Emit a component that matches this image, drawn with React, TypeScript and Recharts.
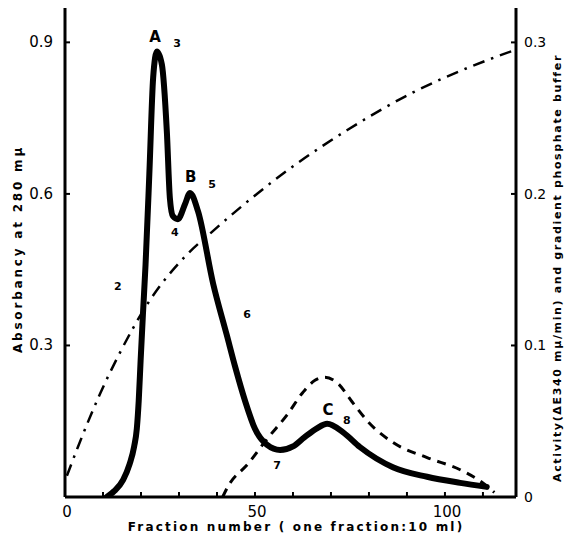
import { ComposedChart, Line, XAxis, YAxis, ReferenceDot } from 'recharts';

// absorbancy at 280 mμ (left axis)
const absFraction = [11, 13, 15.3, 17, 18.2, 18.9, 19.4, 19.9, 20.5, 21.2, 22.2, 23.2, 24.2, 25.5, 26.8, 27.6, 28.4, 29.7, 31.6, 32.9, 35, 39, 42.6, 44.7, 47.4, 50, 53.2, 56.6, 60, 63, 66.3, 69, 73.2, 77.6, 86.3, 95.3, 104, 111];
const absValue = [0, 0.012, 0.034, 0.065, 0.1, 0.135, 0.19, 0.27, 0.36, 0.46, 0.64, 0.83, 0.882, 0.856, 0.724, 0.592, 0.556, 0.55, 0.58, 0.602, 0.566, 0.422, 0.32, 0.26, 0.19, 0.135, 0.103, 0.093, 0.1, 0.118, 0.136, 0.145, 0.128, 0.099, 0.059, 0.04, 0.028, 0.02];

// activity ΔE340 (right axis)
const actFraction = [41.5, 42.9, 48.2, 53.4, 58.4, 62.6, 65.8, 68.4, 71.8, 75.5, 80, 86.3, 95.3, 104, 109, 113];
const actValue = [0, 0.007, 0.022, 0.039, 0.054, 0.069, 0.077, 0.079, 0.075, 0.063, 0.049, 0.036, 0.026, 0.018, 0.011, 0.003];

// gradient phosphate buffer (right axis)
const gradFraction = [0.5, 3.4, 9.2, 14, 21.6, 32.1, 38.7, 50.5, 61, 74.2, 91.6, 105.8, 118.4];
const gradValue = [0.014, 0.033, 0.068, 0.093, 0.127, 0.16, 0.175, 0.2, 0.22, 0.242, 0.267, 0.283, 0.295];

const xTicks = [0, 10, 20, 30, 40, 50, 60, 70, 80, 90, 100, 110];
const leftTicks = [0.3, 0.6, 0.9];
const rightTicks = [0, 0.1, 0.2, 0.3];

const peakLabels = [
  { text: 'A', f: 23.7, v: 0.912, big: true },
  { text: '3', f: 29.5, v: 0.898, big: false },
  { text: 'B', f: 33.1, v: 0.635, big: true },
  { text: '5', f: 38.7, v: 0.62, big: false },
  { text: '4', f: 28.9, v: 0.524, big: false },
  { text: '2', f: 13.9, v: 0.418, big: false },
  { text: '6', f: 47.9, v: 0.363, big: false },
  { text: '7', f: 55.8, v: 0.063, big: false },
  { text: 'C', f: 69.2, v: 0.172, big: true },
  { text: '8', f: 74.2, v: 0.152, big: false },
];

const absorbancy = absFraction.map((f, i) => ({ f, v: absValue[i] }));
const activity = actFraction.map((f, i) => ({ f, v: actValue[i] }));
const gradient = gradFraction.map((f, i) => ({ f, v: gradValue[i] }));

const font = '"DejaVu Sans", sans-serif';

const XTick = (props: any) => {
  const { x, y, payload } = props;
  const v = payload.value;
  return (
    <g>
      <line x1={x} y1={y} x2={x} y2={y - 5} stroke="#000" strokeWidth={2} />
      {v % 50 === 0 && (
        <text x={x + 2} y={y + 20} textAnchor="middle" fontFamily={font} fontSize={15} fill="#000">
          {v}
        </text>
      )}
    </g>
  );
};

const LeftTick = (props: any) => {
  const { x, y, payload } = props;
  return (
    <g>
      <line x1={x} y1={y} x2={x + 5} y2={y} stroke="#000" strokeWidth={2} />
      <text x={x - 12} y={y + 5} textAnchor="end" fontFamily={font} fontSize={15} fill="#000">
        {payload.value}
      </text>
    </g>
  );
};

const RightTick = (props: any) => {
  const { x, y, payload } = props;
  return (
    <g>
      <line x1={x} y1={y} x2={x - 5} y2={y} stroke="#000" strokeWidth={2} />
      <text x={x + 8} y={y + 5} textAnchor="start" fontFamily={font} fontSize={14} fill="#000">
        {payload.value}
      </text>
    </g>
  );
};

export default function App() {
  return (
    <div style={{ position: 'absolute', left: 0, top: 0, background: '#fff' }}>
      <ComposedChart width={575} height={537} margin={{ top: 8, right: 0, bottom: 0, left: 0 }}>
        <XAxis
          dataKey="f"
          type="number"
          domain={[0, 118.7]}
          ticks={xTicks}
          interval={0}
          height={40}
          tickSize={0}
          tickMargin={0}
          tickLine={false}
          tick={<XTick />}
          axisLine={{ stroke: '#000', strokeWidth: 3 }}
          allowDataOverflow
          label={{
            content: () => (
              <text x={296} y={531} textAnchor="middle" fontFamily={font} fontWeight="bold" fontSize={12} letterSpacing={2.2} fill="#000">
                Fraction  number ( one  fraction:10 ml)
              </text>
            ),
          }}
        />
        <YAxis
          yAxisId="left"
          orientation="left"
          width={65}
          domain={[0, 0.968]}
          ticks={leftTicks}
          interval={0}
          tickSize={0}
          tickMargin={0}
          tickLine={false}
          tick={<LeftTick />}
          axisLine={{ stroke: '#000', strokeWidth: 3 }}
          allowDataOverflow
          label={{
            content: () => (
              <text x={0} y={0} transform="translate(22 249) rotate(-90)" textAnchor="middle" fontFamily={font} fontWeight="bold" fontSize={12} letterSpacing={2.8} fill="#000">
                Absorbancy  at 280 mμ
              </text>
            ),
          }}
        />
        <YAxis
          yAxisId="right"
          orientation="right"
          width={59}
          domain={[0, 0.3227]}
          ticks={rightTicks}
          interval={0}
          tickSize={0}
          tickMargin={0}
          tickLine={false}
          tick={<RightTick />}
          axisLine={{ stroke: '#000', strokeWidth: 3 }}
          allowDataOverflow
          label={{
            content: () => (
              <text x={0} y={0} transform="translate(561 268) rotate(-90)" textAnchor="middle" fontFamily={font} fontWeight="bold" fontSize={11} letterSpacing={1.65} fill="#000">
                Activity(ΔE340 mμ/min) and gradient phosphate buffer
              </text>
            ),
          }}
        />
        <Line
          yAxisId="right"
          data={gradient}
          dataKey="v"
          type="monotone"
          stroke="#000"
          strokeWidth={2.5}
          strokeDasharray="12 7 2.5 7"
          dot={false}
          isAnimationActive={false}
        />
        <Line
          yAxisId="right"
          data={activity}
          dataKey="v"
          type="monotone"
          stroke="#000"
          strokeWidth={3}
          strokeDasharray="9 7"
          dot={false}
          isAnimationActive={false}
        />
        <Line
          yAxisId="left"
          data={absorbancy}
          dataKey="v"
          type="monotone"
          stroke="#000"
          strokeWidth={6}
          strokeLinecap="round"
          strokeLinejoin="round"
          dot={false}
          isAnimationActive={false}
        />
        {peakLabels.map((p) => (
          <ReferenceDot
            key={p.text}
            yAxisId="left"
            x={p.f}
            y={p.v}
            r={0}
            fill="none"
            stroke="none"
            label={{
              value: p.text,
              position: 'center',
              fontFamily: font,
              fontWeight: 'bold',
              fontSize: p.big ? 15 : 11,
              fill: '#000',
            }}
          />
        ))}
      </ComposedChart>
    </div>
  );
}
